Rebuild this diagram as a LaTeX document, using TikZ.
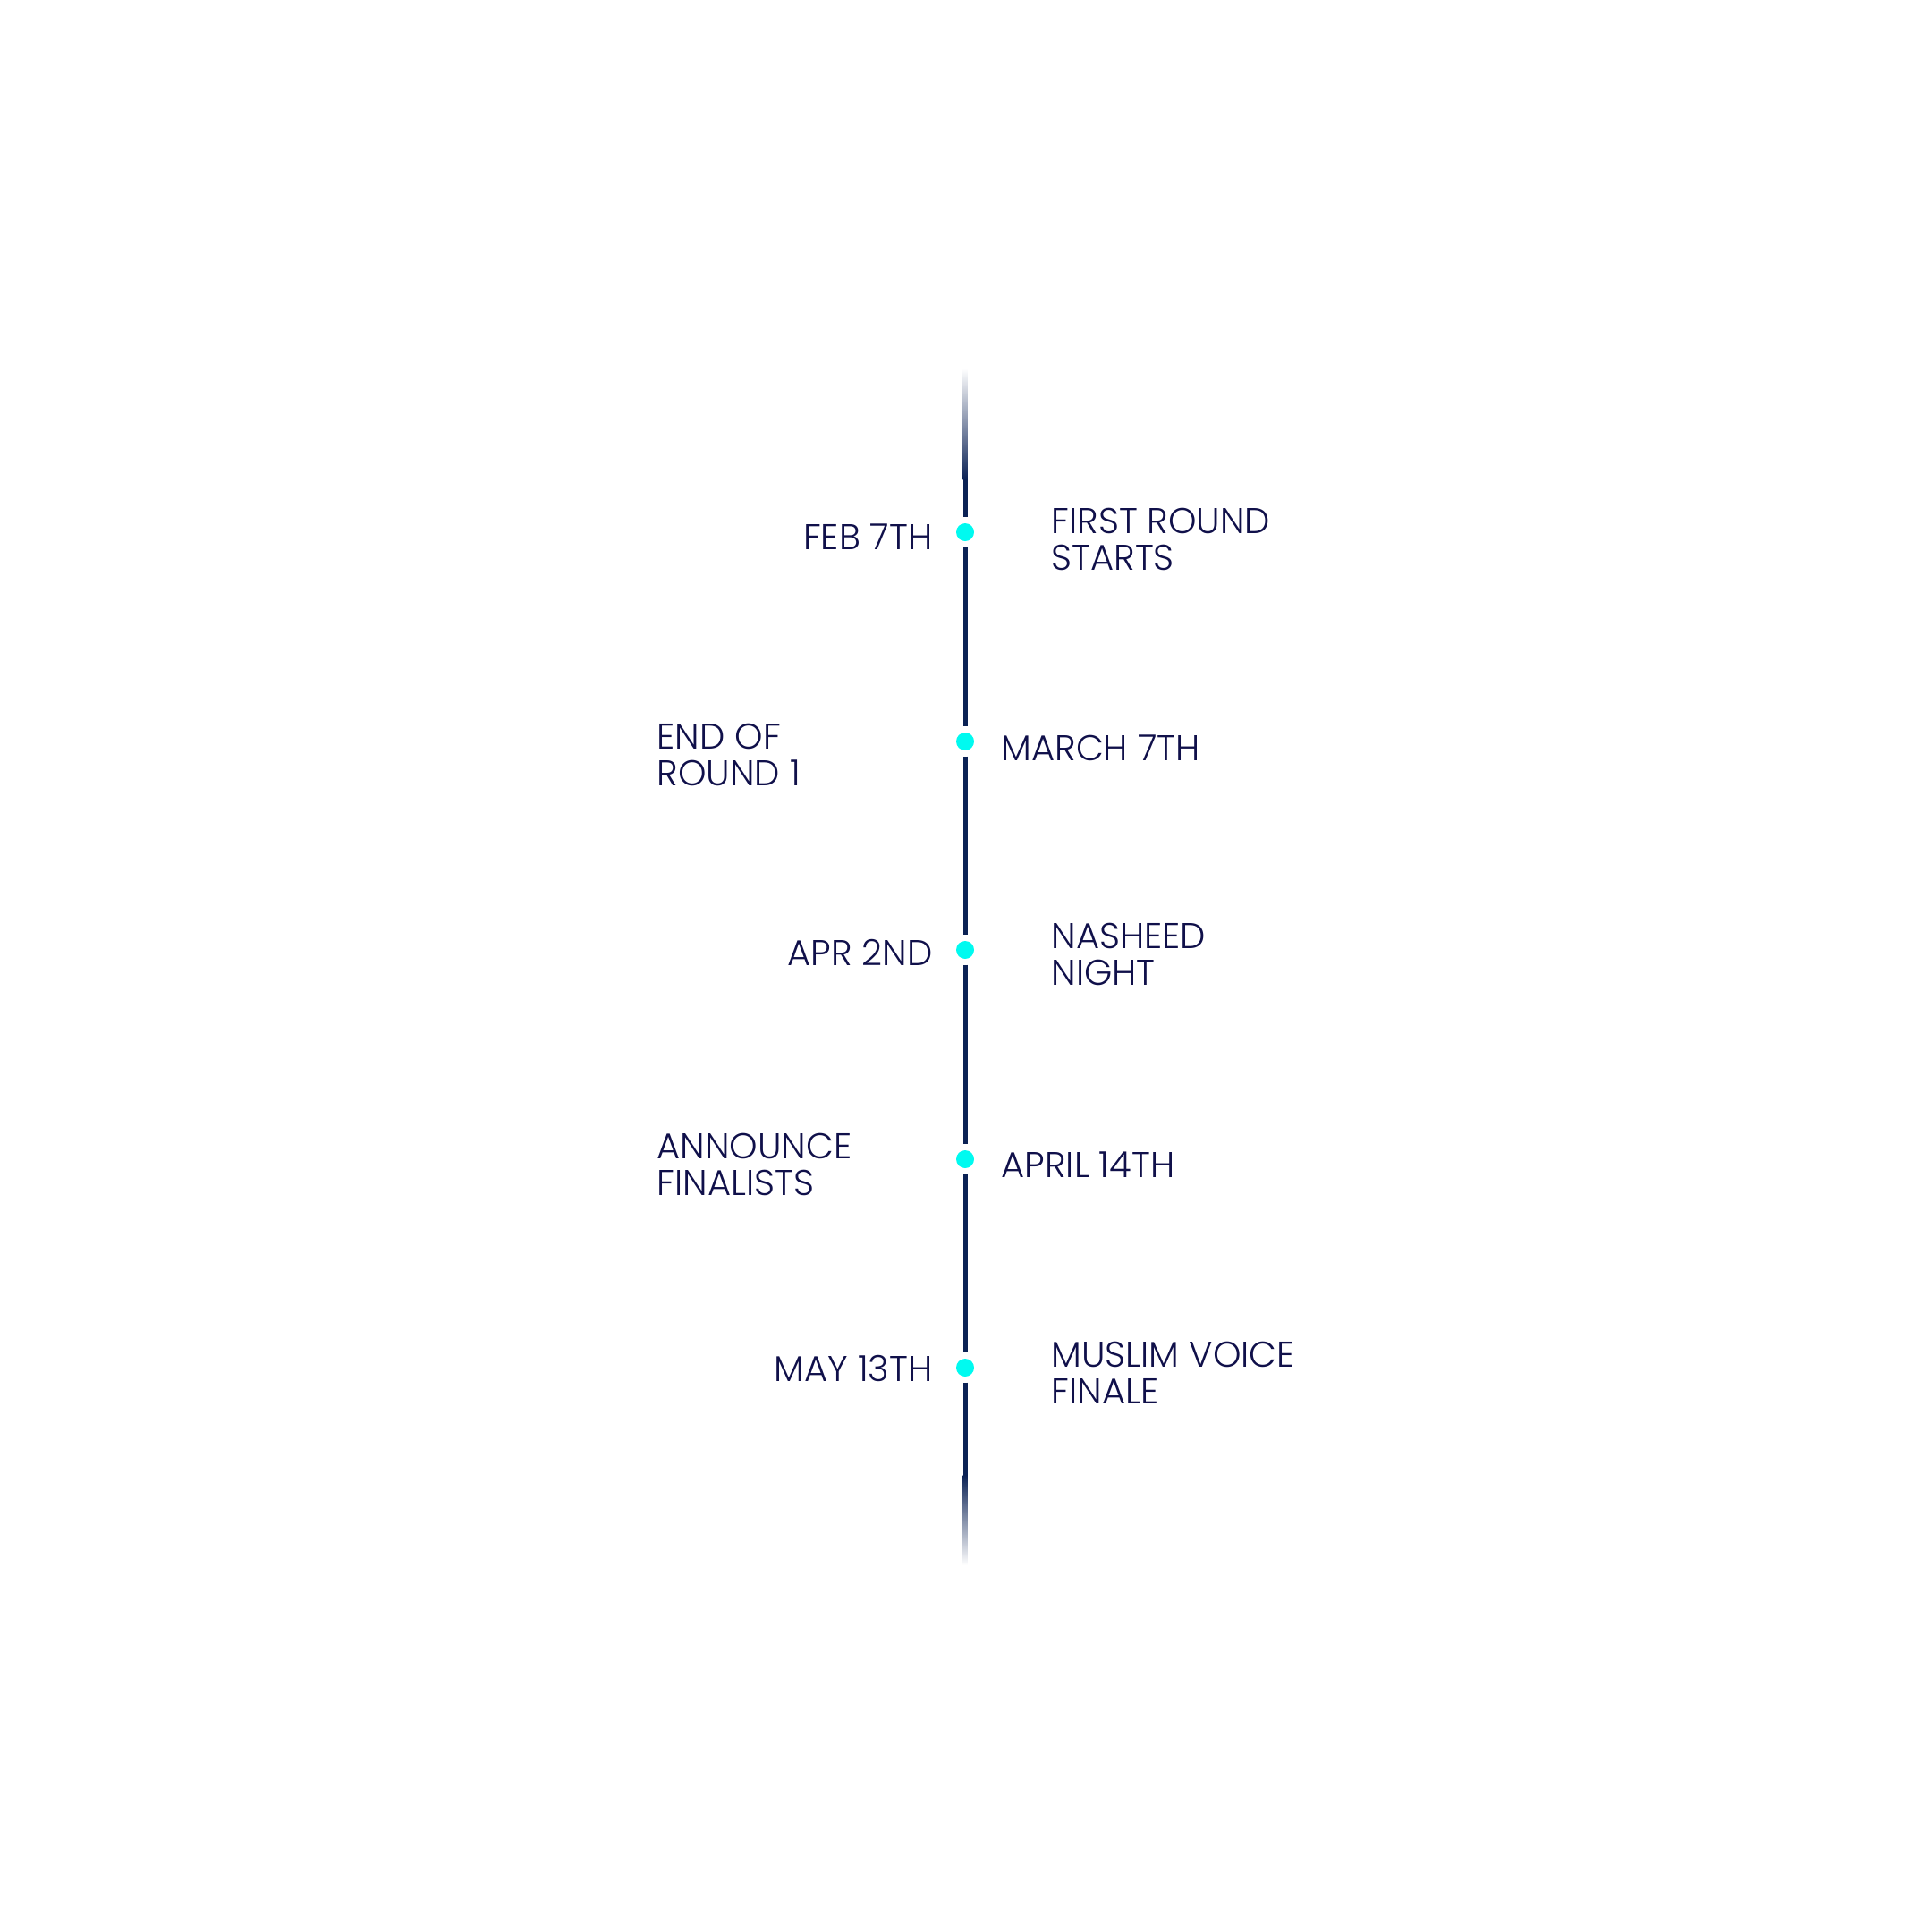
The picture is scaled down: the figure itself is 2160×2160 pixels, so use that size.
\documentclass[tikz,border=0pt]{standalone}
\usepackage{fontspec}
\setmainfont{Poppins Light}
\usetikzlibrary{positioning}
\definecolor{navyLine}{HTML}{0B2255}
\definecolor{navyText}{HTML}{10104A}
\definecolor{aquaDot}{HTML}{00FAF0}
\begin{document}
\begin{tikzpicture}[x=0.1mm,y=-0.1mm]
\fontsize{11.4}{11.4}\selectfont
  \tikzstyle{dotStyle}=[circle,fill=aquaDot,inner sep=0pt,minimum size=2mm]
  \tikzstyle{lineStyle}=[navyLine,line width=0.5mm,shorten <=0.6mm,shorten >=0.6mm]
  \tikzstyle{dateLeft}=[navyText,inner sep=0pt,anchor=base east]
  \tikzstyle{dateRight}=[navyText,inner sep=0pt,anchor=base west]
  \tikzstyle{eventRight}=[navyText,inner sep=0pt,anchor=base west,align=left]
  \tikzstyle{eventLeft}=[navyText,inner sep=0pt,anchor=base west,align=left]

  \useasboundingbox (0,0) rectangle (2160,2160);

  \begin{scope}
   % dots on the time line
   \node[dotStyle](feb) at (1079,595) {};
   \node[dotStyle](march) at (1079,829) {};
   \node[dotStyle](apr) at (1079,1062) {};
   \node[dotStyle](april) at (1079,1296) {};
   \node[dotStyle](may) at (1079,1529) {};

   % line with faded ends
   \coordinate(topSolid) at (1079,535);
   \coordinate(bottomSolid) at (1079,1650);
   \shade[top color=white,bottom color=navyLine] (1076.5,412) rectangle (1081.5,536);
   \shade[top color=navyLine,bottom color=white] (1076.5,1649) rectangle (1081.5,1750);
   \draw[lineStyle,shorten <=0pt] (topSolid) -- (feb);
   \draw[lineStyle] (feb) -- (march);
   \draw[lineStyle] (march) -- (apr);
   \draw[lineStyle] (apr) -- (april);
   \draw[lineStyle] (april) -- (may);
   \draw[lineStyle,shorten >=0pt] (may) -- (bottomSolid);

   % dates
   \node[dateLeft](febDate) at (1043,614) {FEB 7TH};
   \node[dateRight](marchDate) at (1119,850) {MARCH 7TH};
   \node[dateLeft](aprDate) at (1043,1079) {APR 2ND};
   \node[dateRight](aprilDate) at (1119,1316) {APRIL 14TH};
   \node[dateLeft](mayDate) at (1043,1544) {MAY 13TH};

   % events (base = last line)
   \node[eventRight](firstRound) at (1175,637) {FIRST ROUND\\STARTS};
   \node[eventLeft](endRound) at (734,878) {END OF\\ROUND 1};
   \node[eventRight](nasheed) at (1175,1101) {NASHEED\\NIGHT};
   \node[eventLeft](finalists) at (734,1336) {ANNOUNCE\\FINALISTS};
   \node[eventRight](finale) at (1175,1569) {MUSLIM VOICE\\FINALE};
  \end{scope}

\end{tikzpicture}
\end{document}
